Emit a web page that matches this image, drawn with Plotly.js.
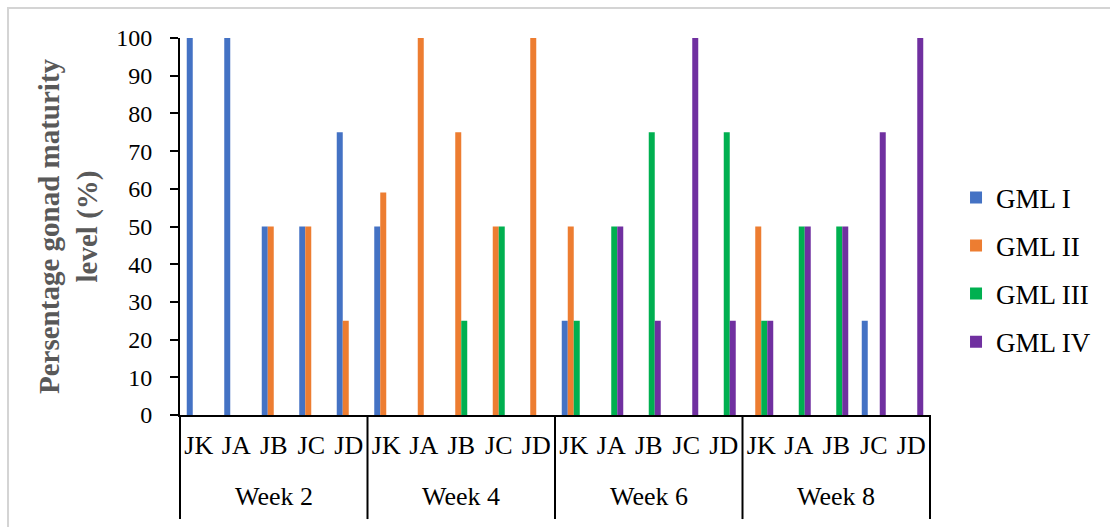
<!DOCTYPE html>
<html>
<head>
<meta charset="utf-8">
<script src="https://cdn.plot.ly/plotly-3.0.1.min.js"></script>
<style>
  html, body { margin: 0; padding: 0; background: #ffffff; }
  #chart { width: 1110px; height: 527px; }
</style>
</head>
<body>
<div id="chart"></div>
<script>
// ---- Data ----
const weeks = ["Week 2", "Week 4", "Week 6", "Week 8"];
const groups = ["JK", "JA", "JB", "JC", "JD"];
const seriesNames = ["GML I", "GML II", "GML III", "GML IV"];
const gml1 = [100, 100, 50, 50, 75,   50, 0, 0, 0, 0,    25, 0, 0, 0, 0,    0, 0, 0, 25, 0];
const gml2 = [0, 0, 50, 50, 25,       59, 100, 75, 50, 100, 50, 0, 0, 0, 0,  50, 0, 0, 0, 0];
const gml3 = [0, 0, 0, 0, 0,          0, 0, 25, 50, 0,   25, 50, 75, 0, 75,  25, 50, 50, 0, 0];
const gml4 = [0, 0, 0, 0, 0,          0, 0, 0, 0, 0,     0, 50, 25, 100, 25, 25, 50, 50, 75, 100];
const colors = ["#4472C4", "#ED7D31", "#00B050", "#7030A0"];
const yTicks = [0, 10, 20, 30, 40, 50, 60, 70, 80, 90, 100];

// ---- Build ----
const cats = [], catLabels = [];
weeks.forEach(w => groups.forEach(g => { cats.push(w + " " + g); catLabels.push(g); }));
const allSeries = [gml1, gml2, gml3, gml4];
const FONT = "Liberation Serif, Times New Roman, serif";

const traces = allSeries.map((vals, i) => ({
  type: "bar",
  name: seriesNames[i],
  x: cats,
  y: vals,
  legendgroup: "g" + i,
  marker: { color: colors[i], line: { width: 0 } },
  hoverinfo: "x+y+name"
}));

const nCats = cats.length;
const shapes = [];
// week dividers below the axis
for (let k = 0; k <= weeks.length; k++) {
  const xf = (k * groups.length) / nCats;
  shapes.push({
    type: "line", xref: "x domain", yref: "paper",
    x0: xf, x1: xf, y0: 0, y1: -0.276,
    line: { color: "#000000", width: 2 }
  });
}
// outer chart border
shapes.push({
  type: "rect", xref: "paper", yref: "paper",
  x0: -0.2293, x1: 1.5, y0: 1.0796, y1: -0.5,
  line: { color: "#D4D4D4", width: 2 }, fillcolor: "rgba(0,0,0,0)"
});

const annotations = weeks.map((w, k) => ({
  x: cats[k * groups.length + Math.floor(groups.length / 2)],
  xref: "x", yref: "paper",
  y: -0.2175, yanchor: "middle", xanchor: "center",
  text: w, showarrow: false,
  font: { family: FONT, size: 26, color: "#000000" }
}));

const layout = {
  width: 1110, height: 527,
  margin: { l: 180, r: 180, t: 38, b: 112 },
  paper_bgcolor: "#ffffff", plot_bgcolor: "#ffffff",
  barmode: "group", bargap: 0.36, bargroupgap: 0,
  font: { family: FONT, size: 23, color: "#000000" },
  showlegend: true,
  legend: {
    x: 1.0347, xanchor: "left", y: 0.385, yanchor: "middle",
    traceorder: "grouped", tracegroupgap: 10,
    font: { family: FONT, size: 27, color: "#000000" },
    bgcolor: "rgba(0,0,0,0)"
  },
  xaxis: {
    type: "category",
    range: [-0.5, nCats - 0.5],
    tickvals: cats, ticktext: catLabels,
    showline: true, linecolor: "#000000", linewidth: 2,
    ticks: "", showgrid: false, zeroline: false,
    tickfont: { family: FONT, size: 26, color: "#000000" },
    ticklabelstandoff: 6
  },
  yaxis: {
    range: [0, 100],
    tickvals: yTicks,
    showline: true, linecolor: "#000000", linewidth: 2,
    ticks: "outside", ticklen: 8, tickwidth: 2, tickcolor: "#000000",
    showgrid: false, zeroline: false,
    tickfont: { family: FONT, size: 24, color: "#000000" },
    ticklabelstandoff: 13,
    title: {
      text: "<b>Persentage gonad maturity</b><br><b>level (%)</b>",
      font: { family: FONT, size: 29, color: "#595959" },
      standoff: 10
    }
  },
  shapes: shapes,
  annotations: annotations
};

Plotly.newPlot("chart", traces, layout, { displayModeBar: false, responsive: false });
</script>
</body>
</html>
